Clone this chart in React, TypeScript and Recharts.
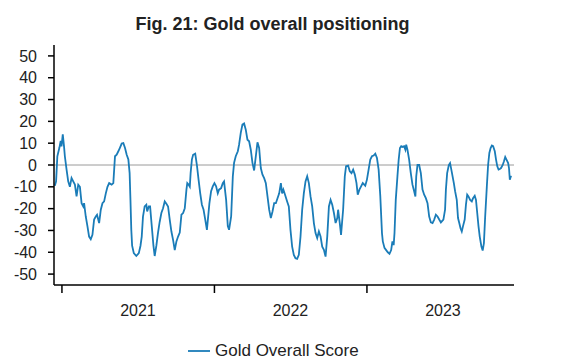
import { LineChart, Line, XAxis, YAxis, ReferenceLine, Legend } from 'recharts'

const FONT = '"Liberation Sans", Arial, Helvetica, sans-serif'
const BLUE = '#1a7cb8'

// days since 2021-01-01
const days = [
  -17, -14, -11, -6, -3, -1, 2, 5, 7, 11,
  15, 19, 23, 27, 31, 35, 39, 43, 47, 51,
  53, 57, 61, 65, 69, 73, 77, 81, 84, 89,
  93, 97, 101, 105, 109, 113, 119, 123, 127, 131,
  135, 139, 143, 147, 151, 155, 159, 162, 164, 166,
  168, 172, 178, 184, 188, 191, 194, 198, 202, 204,
  208, 211, 215, 219, 222, 226, 230, 234, 238, 242,
  246, 250, 254, 258, 262, 266, 270, 274, 278, 282,
  286, 290, 294, 298, 300, 303, 306, 308, 311, 314,
  319, 323, 327, 331, 335, 339, 343, 347, 353, 357,
  361, 365, 369, 373, 376, 381, 385, 388, 393, 397,
  400, 405, 409, 412, 416, 421, 424, 428, 432, 436,
  440, 444, 448, 452, 456, 460, 464, 468, 472, 476,
  480, 484, 488, 492, 496, 500, 504, 508, 512, 516,
  520, 524, 527, 530, 534, 539, 543, 547, 551, 555,
  559, 563, 567, 571, 575, 579, 583, 587, 591, 595,
  599, 603, 607, 611, 615, 619, 623, 627, 631, 635,
  639, 643, 647, 651, 655, 659, 661, 665, 668, 673,
  677, 680, 685, 689, 693, 697, 701, 705, 708, 712,
  716, 720, 726, 730, 734, 738, 742, 746, 750, 754,
  758, 762, 766, 768, 772, 776, 780, 784, 788, 791,
  794, 796, 799, 803, 806, 809, 812, 815, 819, 822,
  824, 827, 831, 835, 839, 843, 846, 848, 851, 855,
  859, 863, 867, 871, 875, 879, 883, 887, 891, 895,
  899, 903, 907, 913, 917, 919, 922, 926, 929, 932,
  935, 938, 941, 945, 948, 951, 954, 957, 960, 964,
  967, 970, 973, 977, 981, 984, 988, 991, 994, 997,
  1000, 1004, 1007, 1010, 1013, 1017, 1020, 1023, 1026, 1029,
  1032, 1036, 1039, 1042, 1045, 1048, 1051, 1055, 1058, 1061,
  1064, 1068, 1070, 1072, 1075,
]

const goldScore = [
  -9.5, -7.5, 4, 8, 11, 8.5, 14, 8.5, 4, -2,
  -7.5, -10, -6, -7.5, -9, -14.4, -9, -10, -17.5, -19,
  -17.5, -23.6, -28, -32.8, -34, -32, -25, -23.6, -22.8, -26.6,
  -20.5, -17.5, -16.7, -13, -10, -8.3, -9, -8.3, 4, 4.7,
  6.3, 8, 9.8, 10, 7.8, 4.7, 2.5, -3.7, -16, -29.7,
  -37, -40.4, -41.7, -40.4, -37, -32.8, -23.6, -19, -18.2, -21.3,
  -19, -19, -28, -37, -41.7, -37, -31, -26, -22, -19.8,
  -16.7, -17.8, -19, -25, -30.5, -34.3, -39, -35, -32.8, -31,
  -22.8, -22, -19.8, -11.3, -8.3, -9, -10, -3.7, 2.5, 4.7,
  5.2, 0, -6.7, -13, -18.2, -20.5, -25, -29.7, -17.5, -12,
  -9.8, -8.3, -9.8, -13, -11.3, -10.6, -8.3, -7.5, -16, -28,
  -29.7, -23.6, -5.2, 1, 4, 6.3, 9.3, 14.7, 18.5, 19,
  16.2, 11.6, 10.9, 7, 1, -2.5, 4, 10.4, 7.8, -1.4,
  -4.4, -6, -8.3, -14.4, -20.5, -24.3, -21.3, -17.5, -17.5, -15.2,
  -13, -8.3, -13, -11.3, -13.6, -16.7, -19, -29.7, -37.4, -41.2,
  -42.7, -43, -41.2, -32.8, -20.5, -12.9, -7.5, -5.2, -8.3, -14.4,
  -19, -26.6, -31.2, -33.5, -30.5, -32.8, -37.4, -38.9, -42, -32.8,
  -19, -16, -18.2, -22, -26.6, -24.3, -20.5, -26.6, -32, -20.5,
  -5.2, -0.6, -0.3, -2.9, -3.7, -2.1, -4.4, -8.3, -13.6, -11.3,
  -9.8, -8.3, -9.5, -6.7, -2.1, 2.5, 4, 4.3, 5.2, 3.2,
  -2.1, -14.4, -31.2, -35, -38, -39, -40, -40.7, -39, -35,
  -36.7, -31.2, -16, -5.2, 2.5, 7.8, 8.6, 8.3, 8.6, 7,
  9.3, 7, 2.5, -3.7, -9, -12, -14.4, -5.2, 0, 0,
  -3.7, -11.3, -13.6, -15.2, -17.5, -23.6, -26.3, -26.6, -25, -22.8,
  -23.6, -25, -26.3, -25, -20.5, -11.3, -3.7, 0, 0.9, -2.1,
  -5.2, -8.3, -12, -16, -24.3, -26.6, -29, -30.5, -28, -25,
  -18.2, -13.6, -14.4, -16, -16.7, -15.2, -14.1, -16, -22, -28,
  -32.8, -37.4, -39.2, -35.8, -23.6, -9.8, 0, 5.5, 7.8, 8.9,
  8.6, 6.3, 2.5, -0.6, -2.1, -1.8, -1.4, 0, 1.7, 3.7,
  2.5, 0.9, -1.4, -6.7, -4.9,
]

const yTicks = [-50, -40, -30, -20, -10, 0, 10, 20, 30, 40, 50]
const yearStarts = [0, 365, 730]
const yearMids = [182, 547, 912]
const yearLabels = ['2021', '2022', '2023']

const data = days.map((day, i) => ({ day, score: goldScore[i] }))

const YearTick = ({ x, y, payload }: any) => {
  const i = yearMids.indexOf(payload.value)
  if (i >= 0) {
    return (
      <text x={x} y={y + 31} textAnchor="middle" fontSize={16} fill="#222" fontFamily={FONT}>
        {yearLabels[i]}
      </text>
    )
  }
  return <line x1={x} x2={x} y1={y} y2={y + 8} stroke="#000" strokeWidth={1.5} />
}

const LegendContent = () => (
  <div style={{ height: 37, boxSizing: 'border-box', paddingTop: 14, paddingLeft: 188, display: 'flex', alignItems: 'center', fontFamily: FONT }}>
    <svg width={22} height={4} style={{ marginRight: 5 }}>
      <line x1={0} x2={22} y1={2} y2={2} stroke={BLUE} strokeWidth={1.8} />
    </svg>
    <span style={{ fontSize: 17, color: '#222', lineHeight: '20px' }}>Gold Overall Score</span>
  </div>
)

export default function App() {
  return (
    <div style={{ position: 'relative', width: 569, height: 362, background: '#fff' }}>
      <style>{'body{margin:0}'}</style>
      <div style={{
        position: 'absolute', top: 15, left: 0, width: 545, textAlign: 'center',
        fontFamily: FONT, fontWeight: 'bold', fontSize: 18, lineHeight: '18px', color: '#222', zIndex: 1,
      }}>
        Fig. 21: Gold overall positioning
      </div>
      <LineChart width={569} height={362} data={data} margin={{ top: 45, right: 55, left: 0, bottom: 0 }}>
        <XAxis
          type="number" dataKey="day" domain={[-19, 1082]} ticks={[...yearStarts, ...yearMids]}
          interval={0} height={40} tickLine={false} tickSize={0} tickMargin={0}
          axisLine={{ stroke: '#000', strokeWidth: 1.5 }} tick={<YearTick />} allowDataOverflow
        />
        <YAxis
          type="number" domain={[-55, 55]} ticks={yTicks} interval={0} width={54}
          tickSize={6} tickMargin={11}
          axisLine={{ stroke: '#000', strokeWidth: 1.5 }} tickLine={{ stroke: '#000', strokeWidth: 1.5 }}
          tick={{ fill: '#222', fontSize: 16, fontFamily: FONT }} allowDataOverflow
        />
        <ReferenceLine y={0} stroke="#9a9a9a" strokeWidth={1} />
        <Line
          type="linear" dataKey="score" name="Gold Overall Score" stroke={BLUE}
          strokeWidth={1.8} dot={false} isAnimationActive={false}
        />
        <Legend verticalAlign="bottom" height={37} content={<LegendContent />} />
      </LineChart>
    </div>
  )
}
